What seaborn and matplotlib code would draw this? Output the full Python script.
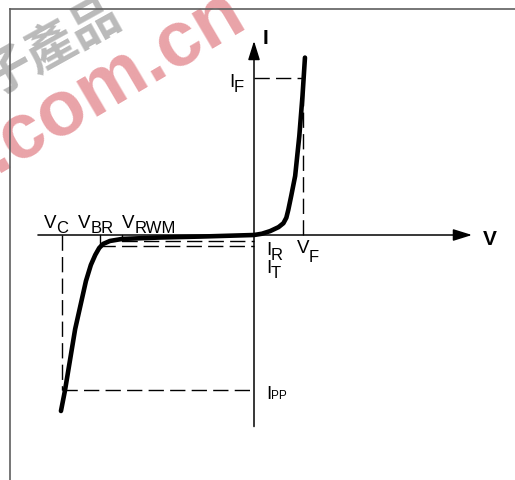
import matplotlib
matplotlib.use("Agg")
import matplotlib.pyplot as plt
import seaborn as sns

# I-V curve of the TVS diode (arbitrary units: V_F = 1, I_F = 1)
fwd_v = [0.0, 0.16, 0.33, 0.50, 0.60, 0.66, 0.70, 0.76, 0.84, 0.925, 0.99, 1.04]
fwd_i = [0.0, 0.008, 0.025, 0.05, 0.075, 0.11, 0.16, 0.25, 0.376, 0.632, 0.887, 1.13]
rev_v = [0.0, -1.10, -1.92, -2.69, -2.94, -3.08, -3.16, -3.24, -3.33, -3.43, -3.65, -3.86, -3.94]
rev_i = [0.0, -0.010, -0.016, -0.025, -0.038, -0.057, -0.083, -0.127, -0.191, -0.293, -0.599, -0.994, -1.121]

# characteristic points
v_c, v_br, v_rwm, v_f = -3.92, -3.14, -2.69, 1.0
i_f, i_pp, i_r, i_t = 1.0, -0.99, -0.038, -0.07
axis_v = (-4.41, 4.45)
axis_i = (-1.22, 1.236)

W, H = 515, 481

sns.set_theme(style="white")
plt.rcParams["font.family"] = ["Liberation Sans", "Noto Sans CJK TC", "DejaVu Sans"]
plt.rcParams["text.color"] = "black"

fig = plt.figure(figsize=(W / 100, H / 100), dpi=100)
# frame: left and top edge of a box that runs off the picture
ax = fig.add_axes([10 / W, 0, 520 / W, (H - 10) / H])
ax.patch.set_visible(False)
ax.set_xlim(-4.98, 5.633)
ax.set_ylim(-1.5605, 1.4395)
ax.set_xticks([])
ax.set_yticks([])
for side in ["right", "bottom"]:
    ax.spines[side].set_visible(False)
for side in ["left", "top"]:
    ax.spines[side].set_color("#5f5f5f")
    ax.spines[side].set_linewidth(1.2)

# watermark
fig.text(-4 / W, 1 - 173 / H, ".com.cn", color="#e9a3a8", fontsize=56,
         fontweight="bold", rotation=30.5, rotation_mode="anchor",
         ha="left", va="baseline", zorder=-1)
fig.text(-14 / W, 1 - 84 / H, "子產品", color="#bababa", fontsize=36,
         fontweight="bold", rotation=29, rotation_mode="anchor",
         ha="left", va="center", zorder=-1,
         family=["Noto Sans CJK TC", "DejaVu Sans"])

# axes with arrows
arrow = dict(arrowstyle="-|>,head_length=1.15,head_width=0.36", color="black",
             lw=1.1, shrinkA=0, shrinkB=0, mutation_scale=10)
ax.annotate("", xy=(axis_v[1], 0), xytext=(axis_v[0], 0), arrowprops=arrow)
ax.annotate("", xy=(0, axis_i[1]), xytext=(0, axis_i[0]), arrowprops=arrow)

# dashed guide lines
dash = dict(color="black", lw=1.0, linestyle=(0, (11, 4.5)))
ax.plot([0, v_f], [i_f, i_f], **dash)
ax.plot([v_f, v_f], [0, i_f], **dash)
ax.plot([v_c, 0], [i_pp, i_pp], **dash)
ax.plot([v_c, v_c], [0, i_pp], **dash)
ax.plot([v_rwm, 0], [i_r, i_r], **dash)
ax.plot([v_br, 0], [i_t, i_t], **dash)
# small solid ticks at V_BR and V_RWM
ax.plot([v_br, v_br], [0, i_t], color="black", lw=1.0)
ax.plot([v_rwm, v_rwm], [0, i_r], color="black", lw=1.0)

# the curve itself
curve_v = rev_v[::-1] + fwd_v[1:]
curve_i = rev_i[::-1] + fwd_i[1:]
sns.lineplot(x=curve_v, y=curve_i, sort=False, estimator=None, color="black",
             linewidth=3.3, ax=ax, solid_capstyle="round", solid_joinstyle="round")


def sub_label(main, sub, xy, dx, dy, sub_dy, size=13.5, sub_size=12):
    ax.annotate(main, xy=xy, xytext=(dx, dy), textcoords="offset pixels",
                ha="right", va="baseline", fontsize=size)
    ax.annotate(sub, xy=xy, xytext=(dx, dy - sub_dy), textcoords="offset pixels",
                ha="left", va="baseline", fontsize=sub_size)


sub_label("V", "C", (v_c, 0), -6, 8.5, 5.5)
sub_label("V", "BR", (v_br, 0), -9.5, 8.5, 5.5)
sub_label("V", "RWM", (v_rwm, 0), 12.5, 8.5, 5.5)
sub_label("V", "F", (v_f, 0), 6, -17, 9)
sub_label("I", "R", (0, i_r), 17, -13, 5)
sub_label("I", "T", (0, i_t), 17, -26, 5)
sub_label("I", "F", (0, i_f), -20, -8, 5)
sub_label("I", "PP", (0, i_pp), 17, -8, 0, sub_size=8.5)

ax.annotate("V", xy=(axis_v[1], 0), xytext=(17.5, -9), textcoords="offset pixels",
            ha="center", va="baseline", fontsize=15, fontweight="bold")
ax.annotate("I", xy=(0, axis_i[1]), xytext=(11, -2), textcoords="offset pixels",
            ha="center", va="baseline", fontsize=15, fontweight="bold")

fig.savefig("out.png", dpi=100)
